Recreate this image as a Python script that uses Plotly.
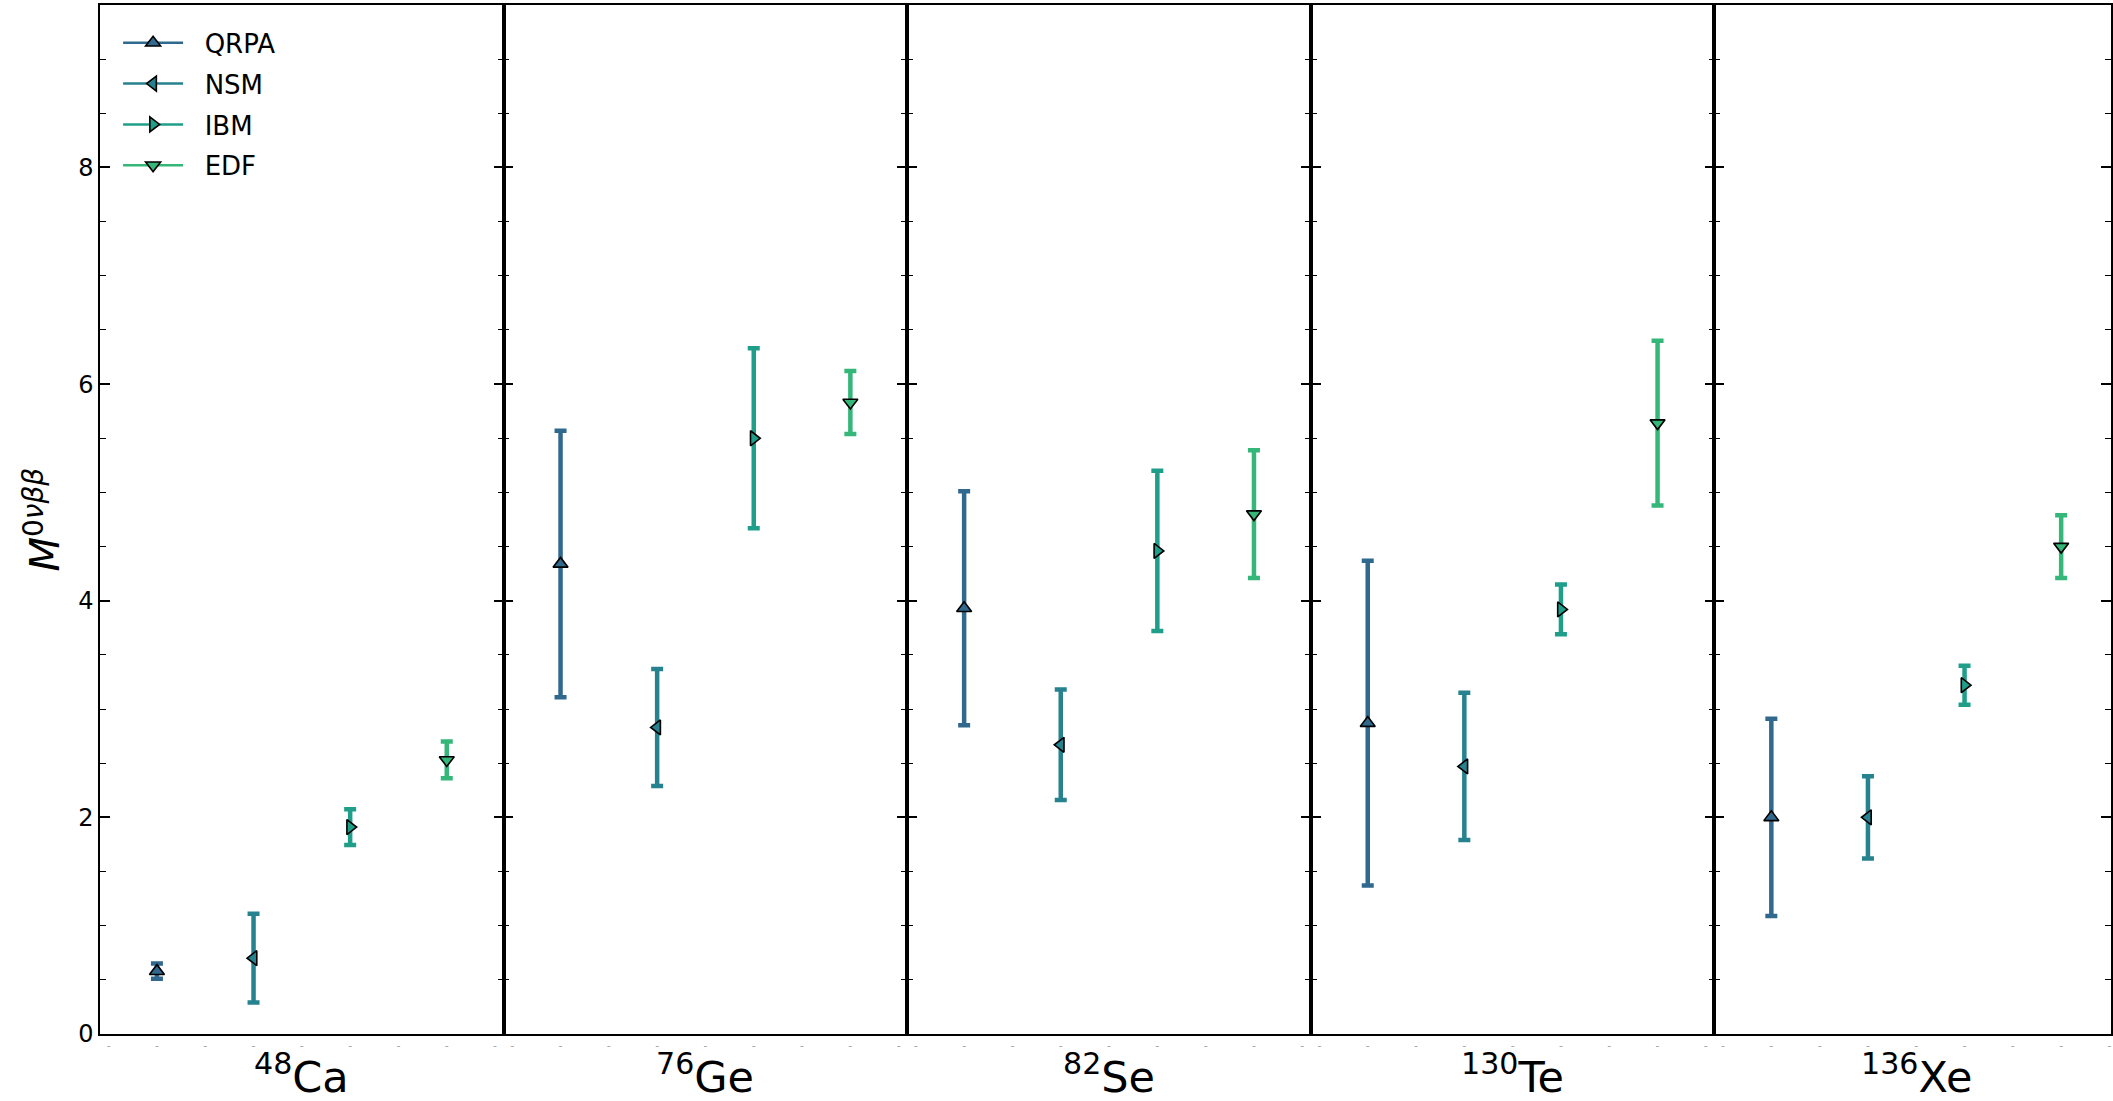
import plotly.graph_objects as go

# ---------------- data ----------------
isotopes = ["<sup>48</sup>Ca", "<sup>76</sup>Ge", "<sup>82</sup>Se", "<sup>130</sup>Te", "<sup>136</sup>Xe"]
methods = ["QRPA", "NSM", "IBM", "EDF"]

qrpa_val = [0.58, 4.34, 3.93, 2.87, 2.00]
qrpa_err = [0.07, 1.23, 1.08, 1.50, 0.91]
nsm_val = [0.70, 2.83, 2.67, 2.47, 2.00]
nsm_err = [0.41, 0.54, 0.51, 0.68, 0.38]
ibm_val = [1.91, 5.50, 4.46, 3.92, 3.22]
ibm_err = [0.165, 0.83, 0.74, 0.23, 0.18]
edf_val = [2.53, 5.83, 4.80, 5.64, 4.50]
edf_err = [0.17, 0.29, 0.59, 0.76, 0.29]

values = [qrpa_val, nsm_val, ibm_val, edf_val]
errors = [qrpa_err, nsm_err, ibm_err, edf_err]
colors = ["#31688e", "#26828e", "#1f9e89", "#35b779"]
symbols = ["triangle-up", "triangle-left", "triangle-right", "triangle-down"]
x_ticks = [-0.5, 0, 0.5, 1, 1.5, 2, 2.5, 3, 3.5]

# ---------------- layout geometry ----------------
W, H = 2113, 1101
ML, MT, MB = 100, 5, 67
plot_w = W - ML
plot_h = H - MT - MB
panel_px = 404
unit_px = 96.7
left_off = 57

fig = go.Figure()
FONT = "DejaVu Sans, Liberation Sans, sans-serif"
NB = "\u00a0"

n = len(isotopes)
for i in range(n):
    xa = "x" if i == 0 else f"x{i+1}"
    ya = "y" if i == 0 else f"y{i+1}"
    for m in range(len(methods)):
        fig.add_trace(go.Scatter(
            x=[m], y=[values[m][i]],
            error_y=dict(type="data", array=[errors[m][i]], visible=True,
                         color=colors[m], thickness=4.5, width=6),
            mode="markers",
            marker=dict(symbol=symbols[m], size=13, color=colors[m],
                        line=dict(color="black", width=1.6)),
            xaxis=xa, yaxis=ya, showlegend=False, hoverinfo="skip",
        ))

# legend entries (line + marker handles)
for m in range(len(methods)):
    fig.add_trace(go.Scatter(
        x=[None], y=[None], mode="lines+markers", name=NB * 2 + methods[m],
        line=dict(color=colors[m], width=2.5),
        marker=dict(symbol=symbols[m], size=13, color=colors[m],
                    line=dict(color="black", width=1.6)),
        legendgroup=methods[m], xaxis="x", yaxis="y",
    ))

layout = dict(
    width=W, height=H,
    margin=dict(l=ML, r=0, t=MT, b=MB),
    paper_bgcolor="white", plot_bgcolor="white",
    font=dict(family=FONT, color="black"),
    showlegend=True,
    legend=dict(x=0.009, y=0.986, xanchor="left", yanchor="top",
                font=dict(size=26, family=FONT), bgcolor="rgba(0,0,0,0)",
                itemwidth=60, tracegroupgap=4),
)

annotations = []
for i in range(n):
    x0 = panel_px * i / plot_w
    x1 = min(panel_px * (i + 1) / plot_w, 1.0)
    width_px = (x1 - x0) * plot_w
    rng = [-left_off / unit_px, (width_px - left_off) / unit_px]
    xkey = "xaxis" if i == 0 else f"xaxis{i+1}"
    ykey = "yaxis" if i == 0 else f"yaxis{i+1}"
    layout[xkey] = dict(
        domain=[x0, x1], range=rng, anchor="y" if i == 0 else f"y{i+1}",
        showline=True, linecolor="black", linewidth=1.5, mirror=True,
        showgrid=False, zeroline=False, ticks="",
        tickmode="array", tickvals=x_ticks, ticktext=["-"] * len(x_ticks),
        tickfont=dict(size=11, color="#a0a0a0"),
    )
    layout[ykey] = dict(
        range=[0, 9.5], anchor="x" if i == 0 else f"x{i+1}",
        showline=True, linecolor="black", linewidth=1.5, mirror="ticks",
        showgrid=False, zeroline=False,
        ticks="inside", ticklen=10, tickwidth=1.5, tickcolor="black",
        tickmode="array", tickvals=[0, 2, 4, 6, 8],
        showticklabels=(i == 0), tickfont=dict(size=24, family=FONT),
        minor=dict(ticks="inside", ticklen=6, tickwidth=1.2, tickcolor="black",
                   dtick=0.5, tick0=0, showgrid=False),
    )
    if i > 0:
        layout[ykey]["matches"] = "y"
    annotations.append(dict(
        text=isotopes[i], xref=("x" if i == 0 else f"x{i+1}"), yref="paper",
        x=1.5, y=-40 / plot_h, xanchor="center", yanchor="middle", showarrow=False,
        font=dict(size=43, family=FONT, color="black"),
    ))

annotations.append(dict(
    text="<i>M</i><sup>0<i>νββ</i></sup>", xref="paper", yref="paper",
    x=-58 / plot_w, y=0.5, xanchor="center", yanchor="middle",
    textangle=-90, showarrow=False,
    font=dict(size=40, family=FONT, color="black"),
))
layout["annotations"] = annotations

fig.update_layout(**layout)
fig.write_html("out.html")
